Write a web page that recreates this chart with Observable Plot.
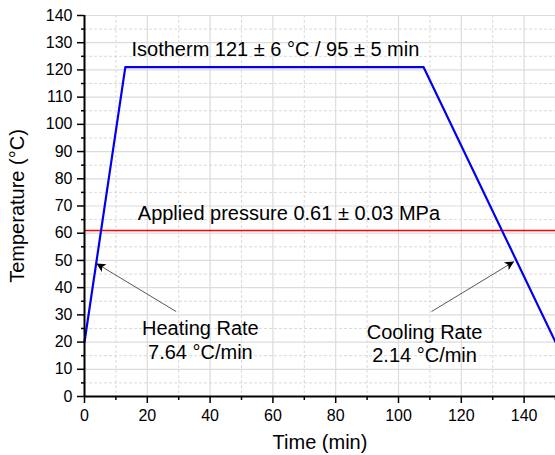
<!DOCTYPE html>
<html>
<head>
<meta charset="utf-8">
<script src="https://cdn.jsdelivr.net/npm/d3@7"></script>
<script src="https://cdn.jsdelivr.net/npm/@observablehq/plot@0.6"></script>
<style>
  html, body { margin: 0; padding: 0; background: #fff; }
  svg { display: block; }
</style>
</head>
<body>
<div id="chart"></div>
<script>
// Temperature profile (time in min, temperature in °C)
const profileTime = [0, 13, 108, 150];
const profileTemp = [20, 121, 121, 20];

// Applied pressure level drawn as horizontal line (°C axis position)
const pressureLevel = [61];

// Axis ticks
const xTicks = [0, 20, 40, 60, 80, 100, 120, 140];
const xMinor = [10, 30, 50, 70, 90, 110, 130, 150];
const yTicks = [0, 10, 20, 30, 40, 50, 60, 70, 80, 90, 100, 110, 120, 130, 140];
const yMinor = [5, 15, 25, 35, 45, 55, 65, 75, 85, 95, 105, 115, 125, 135];

// Annotation texts
const labelText = [
  "Isotherm 121 ± 6 °C / 95 ± 5 min",
  "Applied pressure 0.61 ± 0.03 MPa",
  "Heating Rate",
  "7.64 °C/min",
  "Cooling Rate",
  "2.14 °C/min"
];
const labelX = [60.8, 65.1, 36.9, 36.9, 108.3, 108.3];
const labelY = [127.6, 67.3, 25.0, 16.2, 23.5, 15.1];

// Arrows (tail -> tip)
const arrowX1 = [29.2, 110.5];
const arrowY1 = [31.2, 31.2];
const arrowX2 = [3.8, 136.8];
const arrowY2 = [48.9, 49.6];

const profile = profileTime.map((t, i) => ({t, v: profileTemp[i]}));
const labels = labelText.map((s, i) => ({s, x: labelX[i], y: labelY[i]}));
const arrows = arrowX1.map((x1, i) => ({x1, y1: arrowY1[i], x2: arrowX2[i], y2: arrowY2[i]}));

const font = "'Liberation Sans', Arial, sans-serif";

const chart = Plot.plot({
  width: 555,
  height: 455,
  marginLeft: 84,
  marginRight: 0,
  marginTop: 15,
  marginBottom: 59,
  style: {fontFamily: font, fontSize: "16px", color: "#000", background: "#fff"},
  x: {domain: [0, 150]},
  y: {domain: [0, 140]},
  marks: [
    Plot.gridX(xMinor, {stroke: "#d0d0d0", strokeOpacity: 1, strokeDasharray: "3,2", strokeWidth: 0.8}),
    Plot.gridY(yMinor, {stroke: "#d0d0d0", strokeOpacity: 1, strokeDasharray: "3,2", strokeWidth: 0.8}),
    Plot.gridX(xTicks, {stroke: "#dcdcdc", strokeOpacity: 1, strokeWidth: 1.2}),
    Plot.gridY(yTicks, {stroke: "#dcdcdc", strokeOpacity: 1, strokeWidth: 1.2}),
    Plot.axisX({ticks: xMinor, tickSize: 4, tickFormat: () => "", strokeWidth: 1.5}),
    Plot.axisY({ticks: yMinor, tickSize: 3, tickFormat: () => "", strokeWidth: 1.5}),
    Plot.axisX({ticks: xTicks, tickSize: 7, tickPadding: 6, fontSize: 16, strokeWidth: 1.5,
      label: "Time (min)", labelAnchor: "center", labelArrow: "none", labelOffset: 52}),
    Plot.axisY({ticks: yTicks, tickSize: 7, tickPadding: 5, fontSize: 16, strokeWidth: 1.5,
      label: "Temperature (°C)", labelAnchor: "center", labelArrow: "none", labelOffset: 75}),
    Plot.ruleY(pressureLevel, {stroke: "#ff0000", strokeWidth: 1.6}),
    Plot.line(profile, {x: "t", y: "v", stroke: "#0000ee", strokeWidth: 2.2}),
    Plot.link(arrows, {x1: "x1", y1: "y1", x2: "x2", y2: "y2", stroke: "#444", strokeWidth: 0.9, className: "annot-arrow"}),
    Plot.text(labels, {x: "x", y: "y", text: "s", fontSize: 20, fill: "#000", textAnchor: "middle"}),
    Plot.ruleX([0], {stroke: "#000", strokeWidth: 2}),
    Plot.ruleY([0], {stroke: "#000", strokeWidth: 2})
  ]
});

// Filled arrowheads for annotation arrows
const svg = d3.select(chart);
const defs = svg.insert("defs", ":first-child");
defs.append("marker")
  .attr("id", "ahead")
  .attr("viewBox", "0 0 10 10")
  .attr("refX", 10).attr("refY", 5)
  .attr("markerUnits", "userSpaceOnUse")
  .attr("markerWidth", 12).attr("markerHeight", 9)
  .attr("orient", "auto")
  .append("path").attr("d", "M0,0L10,5L0,10L2.5,5Z").attr("fill", "#000");
svg.selectAll(".annot-arrow path").attr("marker-end", "url(#ahead)");

// axis title sizes
svg.selectAll("[aria-label='x-axis label'] text, [aria-label='y-axis label'] text").attr("font-size", 20);
svg.selectAll("[aria-label='x-axis label'], [aria-label='y-axis label']").attr("font-size", 20);

document.getElementById("chart").appendChild(chart);
</script>
</body>
</html>
